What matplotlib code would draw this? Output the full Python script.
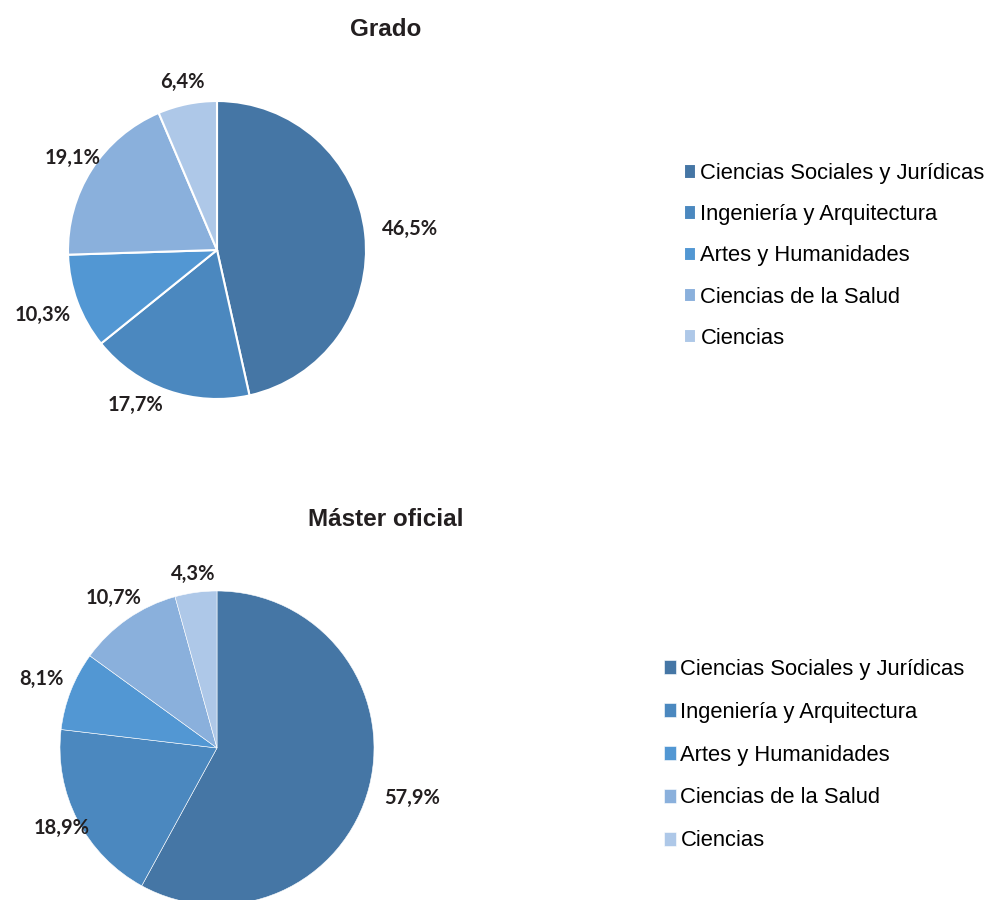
import matplotlib.pyplot as plt
import numpy as np

categorias = ['Ciencias Sociales y Jurídicas', 'Ingeniería y Arquitectura',
              'Artes y Humanidades', 'Ciencias de la Salud', 'Ciencias']
grado = [46.5, 17.7, 10.3, 19.1, 6.4]
master = [57.9, 18.9, 8.1, 10.7, 4.3]
colores = ['#4576a5', '#4b88bf', '#5297d3', '#8ab0dc', '#aec8e8']

W, H = 989, 900


def dibujar_pie(fig, titulo, valores, cx, cy, r, dist, alin, edge_lw, leg_x, leg_y, leg_sp):
    ax = fig.add_axes([(cx - r) / W, 1 - (cy + r) / H, 2 * r / W, 2 * r / H])
    wedges, _ = ax.pie(valores, colors=colores, startangle=90, counterclock=False,
                       wedgeprops=dict(edgecolor='white', linewidth=edge_lw))
    ax.set_xlim(-1, 1)
    ax.set_ylim(-1, 1)
    ax.set_aspect('equal')
    ax.axis('off')

    # etiquetas en el angulo medio de cada sector
    total = sum(valores)
    acum = 0
    for v, d, ha in zip(valores, dist, alin):
        ang = np.deg2rad(90 - (acum + v / 2) / total * 360)
        acum += v
        ax.text(d * np.cos(ang), d * np.sin(ang), f'{v:.1f}'.replace('.', ',') + '%',
                ha=ha, va='center', fontsize=14.5, fontweight='bold',
                family='Lato', color='#231f20', clip_on=False)

    fig.text(386 / W, 1 - cy_title[titulo] / H, titulo, ha='center', va='center',
             fontsize=17.5, fontweight='bold', family='Liberation Sans', color='#231f20')

    fig.legend(wedges, categorias, loc='center left',
               bbox_to_anchor=(leg_x / W, 1 - leg_y / H), frameon=False,
               borderpad=0, borderaxespad=0, handlelength=0.55, handleheight=0.62,
               handletextpad=0.2, labelspacing=leg_sp,
               prop=dict(family='Liberation Sans', size=15.8))


cy_title = {'Grado': 29, 'Máster oficial': 519}

fig = plt.figure(figsize=(W / 100, H / 100), dpi=100)
dibujar_pie(fig, 'Grado', grado, 217, 250, 149,
            [1.3, 1.1, 1.25, 1.15, 1.15],
            ['center', 'right', 'center', 'center', 'center'],
            1.5, 684, 256, 0.92)
dibujar_pie(fig, 'Máster oficial', master, 217, 748, 157,
            [1.28, 1.11, 1.2, 1.16, 1.12],
            ['center', 'center', 'center', 'center', 'center'],
            0.4, 664, 755, 1.0)

fig.savefig('out.png', dpi=100)
